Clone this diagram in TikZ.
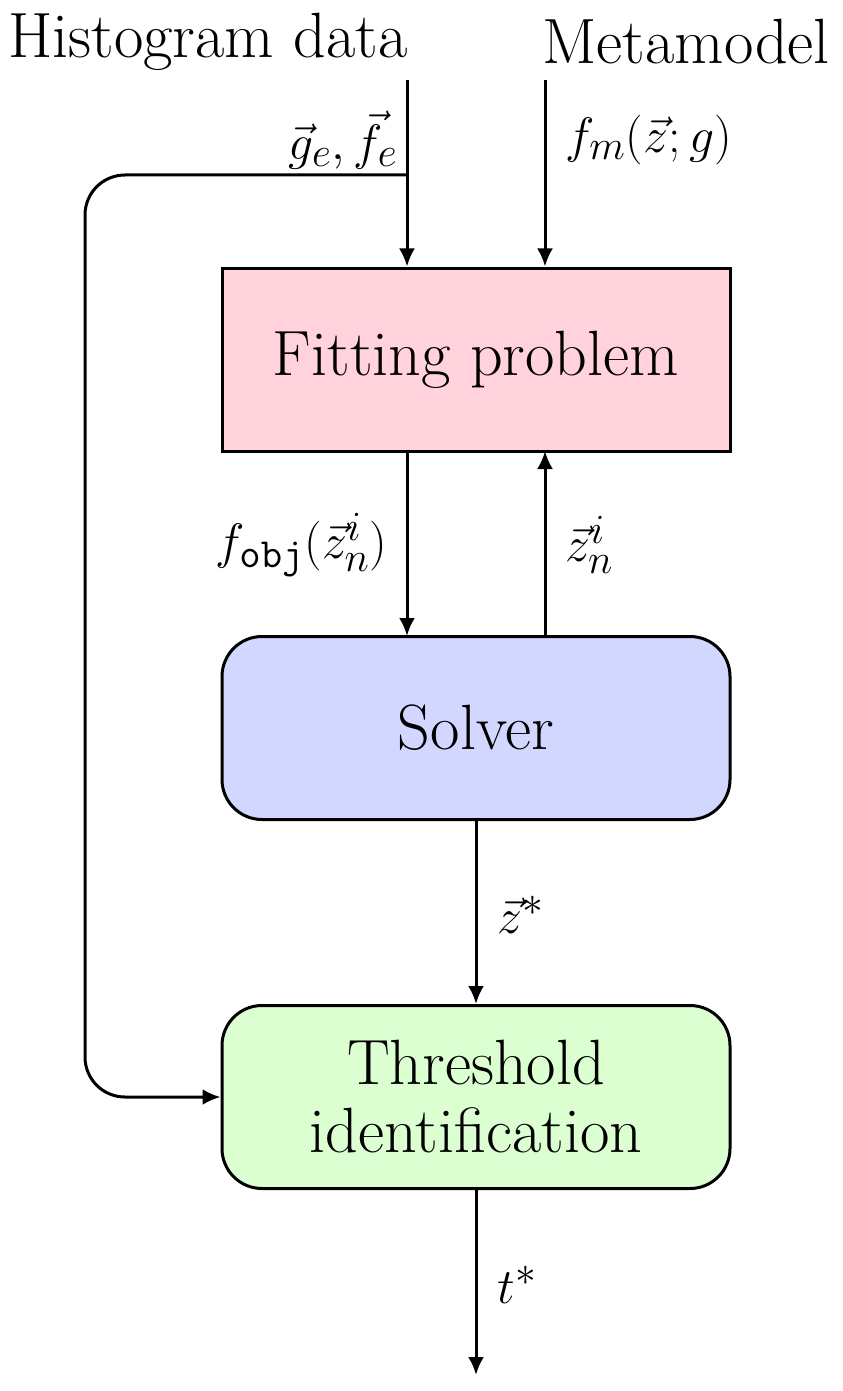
\documentclass[tikz,border=0pt]{standalone}
\usetikzlibrary{arrows.meta}
\begin{document}
\begin{tikzpicture}[x=0.5pt,y=-0.5pt,
  every node/.style={font=\fontsize{32}{38}\selectfont},
  box/.style={draw,line width=1.5pt,minimum width=254pt,minimum height=91.5pt,align=center,inner sep=0pt},
  arr/.style={line width=1.5pt,-{Latex[length=9pt,width=8pt]}},
  lab/.style={inner sep=0pt}]
\useasboundingbox (0,0) rectangle (842,1391);
\definecolor{cpink}{RGB}{255,210,220}
\definecolor{cblue}{RGB}{210,215,255}
\definecolor{cgreen}{RGB}{220,255,210}
\node[box,fill=cpink] (fit) at (476,359.5) {Fitting problem};
\node[box,fill=cblue,rounded corners=20pt] (sol) at (476,728) {Solver};
\node[box,fill=cgreen,rounded corners=20pt] (thr) at (476,1097) {Threshold\\[-4pt]identification};
\node[lab] (hist) at (208,42) {Histogram data};
\node[lab] (meta) at (686,42) {Metamodel};
\coordinate (h0) at (407,80);
\coordinate (m0) at (545,80);
\coordinate (br) at (407,175);
\coordinate (out) at (476,1375);
\draw[arr] (h0) -- (h0|-fit.north);
\draw[arr] (m0) -- (m0|-fit.north);
\draw[arr,rounded corners=20pt] (br) -- (85,175) -- (85,1097) -- (thr.west);
\draw[arr] (407,451) -- (407,636);
\draw[arr] (545,636) -- (545,451);
\draw[arr] (sol) -- (thr);
\draw[arr] (thr) -- (out);
\node[lab,anchor=east] (l1) at (398,140) {$\vec g_e,\vec f_e$};
\node[lab,anchor=west] (l2) at (565,140) {$f_m(\vec z;g)$};
\node[lab,anchor=east] (l3) at (388,545) {$f_{\mathtt{obj}}(\vec z_n^i)$};
\node[lab,anchor=west] (l4) at (565,545) {$\vec z_n^i$};
\node[lab,anchor=west] (l5) at (497,915) {$\vec z^*$};
\node[lab,anchor=west] (l6) at (497,1285) {$t^*$};
\end{tikzpicture}
\end{document}
